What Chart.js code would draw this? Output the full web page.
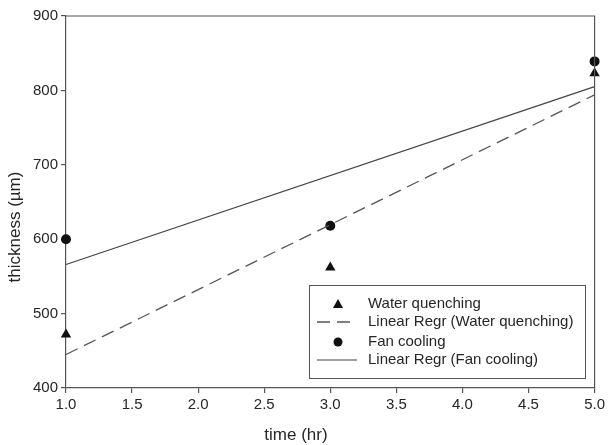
<!DOCTYPE html>
<html>
<head>
<meta charset="utf-8">
<script src="https://cdn.jsdelivr.net/npm/chart.js@4.4.0/dist/chart.umd.min.js"></script>
<style>
  html, body { margin: 0; padding: 0; background: #fff; }
  #wrap { width: 608px; height: 445px; }
</style>
</head>
<body>
<div id="wrap"><canvas id="mycanvas" width="608" height="445"></canvas></div>
<script>
// values
var times = [1, 3, 5];
var waterQuenching = [472, 562, 823];
var fanCooling = [600, 618, 839];
var regrTimes = [1, 5];
var waterRegr = [445, 794];
var fanRegr = [566, 805];

var xTicks = [1.0, 1.5, 2.0, 2.5, 3.0, 3.5, 4.0, 4.5, 5.0];
var yTicks = [400, 500, 600, 700, 800, 900];
var xTitle = 'time (hr)';
var yTitle = 'thickness (\u00b5m)';

function pts(xs, ys) {
	var out = [];
	for (var i in xs) out.push({x: xs[i], y: ys[i]});
	return out;
}

var FONT = "'Liberation Sans', Arial, sans-serif";
var INK = '#262626';

// frame on top / right, axis titles and legend box inside plot
var framePlugin = {
	id: 'frame',
	afterDraw: function(chart) {
		var a = chart.chartArea, c = chart.ctx;
		c.save();
		c.strokeStyle = '#555';
		c.lineWidth = 1.2;
		c.beginPath();
		c.moveTo(a.left, a.top);
		c.lineTo(a.right, a.top);
		c.lineTo(a.right, a.bottom);
		c.stroke();

		// axis titles
		c.fillStyle = INK;
		c.font = '17px ' + FONT;
		c.textAlign = 'center';
		c.textBaseline = 'middle';
		c.fillText(xTitle, 296, 435);
		c.save();
		c.translate(15, 227);
		c.rotate(-Math.PI / 2);
		c.fillText(yTitle, 0, 0);
		c.restore();

		// legend
		var bx = 309, by = 285, bw = 276, bh = 93;
		c.fillStyle = '#fff';
		c.fillRect(bx, by, bw, bh);
		c.strokeStyle = '#555';
		c.lineWidth = 1;
		c.strokeRect(bx + 0.5, by + 0.5, bw, bh);
		var rows = [304, 322, 342, 360];
		c.font = '15px ' + FONT;
		c.textAlign = 'left';
		c.textBaseline = 'middle';
		c.fillStyle = INK;
		chart.data.datasets.forEach(function(ds, i) {
			var y = rows[i];
			c.save();
			if (ds.showLine) {
				c.strokeStyle = ds.borderColor;
				c.lineWidth = ds.borderWidth;
				c.setLineDash(ds.borderDash || []);
				c.beginPath();
				c.moveTo(317, y);
				c.lineTo(357, y);
				c.stroke();
			} else {
				c.fillStyle = ds.backgroundColor;
				c.beginPath();
				if (ds.pointStyle === 'triangle') {
					c.moveTo(338, y - 5);
					c.lineTo(343, y + 4);
					c.lineTo(333, y + 4);
					c.closePath();
				} else {
					c.arc(338, y, 4.5, 0, Math.PI * 2);
				}
				c.fill();
			}
			c.restore();
			c.fillText(ds.label, 368, y);
		});
		c.restore();
	}
};

var chartdata = {
	datasets: [
		{
			label: 'Water quenching',
			data: pts(times, waterQuenching),
			pointStyle: 'triangle',
			pointRadius: 6,
			backgroundColor: '#111',
			borderColor: '#111',
			borderWidth: 0,
			showLine: false
		},
		{
			label: 'Linear Regr (Water quenching)',
			data: pts(regrTimes, waterRegr),
			showLine: true,
			borderColor: '#555',
			borderWidth: 1.3,
			borderDash: [13, 7],
			pointRadius: 0
		},
		{
			label: 'Fan cooling',
			data: pts(times, fanCooling),
			pointStyle: 'circle',
			pointRadius: 5,
			backgroundColor: '#111',
			borderColor: '#111',
			borderWidth: 0,
			showLine: false
		},
		{
			label: 'Linear Regr (Fan cooling)',
			data: pts(regrTimes, fanRegr),
			showLine: true,
			borderColor: '#444',
			borderWidth: 1.2,
			pointRadius: 0
		}
	]
};

var ctx = document.getElementById('mycanvas');

var graph = new Chart(ctx, {
	type: 'scatter',
	data: chartdata,
	plugins: [framePlugin],
	options: {
		responsive: false,
		animation: false,
		clip: false,
		layout: { padding: { top: 16, right: 10, left: 0, bottom: 0 } },
		plugins: {
			legend: { display: false },
			tooltip: { enabled: false }
		},
		scales: {
			x: {
				type: 'linear',
				min: 1,
				max: 5,
				afterBuildTicks: function(axis) {
					axis.ticks = xTicks.map(function(v) { return {value: v}; });
				},
				afterFit: function(axis) { axis.height = 57; },
				ticks: {
					color: INK,
					font: { family: FONT, size: 15 },
					padding: 3,
					maxRotation: 0,
					callback: function(v) { return Number(v).toFixed(1); }
				},
				grid: { drawOnChartArea: false, tickLength: 5, color: '#555', lineWidth: 1.2 },
				border: { color: '#555', width: 1.2 }
			},
			y: {
				type: 'linear',
				min: 400,
				max: 900,
				afterBuildTicks: function(axis) {
					axis.ticks = yTicks.map(function(v) { return {value: v}; });
				},
				afterFit: function(axis) { axis.width = 66; },
				ticks: {
					color: INK,
					font: { family: FONT, size: 15 },
					padding: 3
				},
				grid: { drawOnChartArea: false, tickLength: 5, color: '#555', lineWidth: 1.2 },
				border: { color: '#555', width: 1.2 }
			}
		}
	}
});
</script>
</body>
</html>
